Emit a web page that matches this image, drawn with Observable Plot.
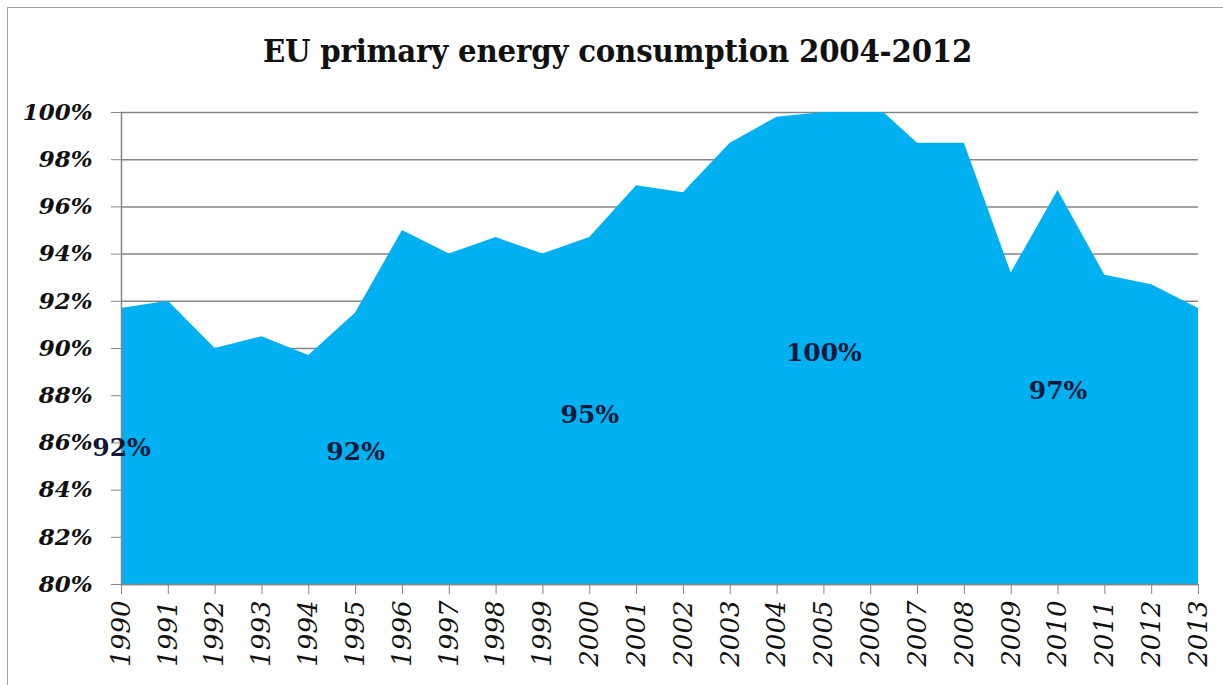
<!DOCTYPE html>
<html>
<head>
<meta charset="utf-8">
<script src="https://cdn.jsdelivr.net/npm/d3@7"></script>
<script src="https://cdn.jsdelivr.net/npm/@observablehq/plot@0.6"></script>
<style>
  html, body { margin: 0; padding: 0; background: #fff; width: 1223px; height: 685px; overflow: hidden; }
  #frame { position: absolute; left: 7px; top: 7px; width: 1240px; height: 700px; border: 1.5px solid #a0a0a0; box-sizing: border-box; }
  #title { position: absolute; left: 0; top: 31px; width: 1235px; text-align: center; font-family: "DejaVu Serif Condensed", "DejaVu Serif", serif; font-weight: bold; font-size: 32.5px; color: #111; letter-spacing: -0.2px; }
  #chart { position: absolute; left: 0; top: 90px; }
</style>
</head>
<body>
<div id="frame"></div>
<div id="title">EU primary energy consumption 2004-2012</div>
<div id="chart"></div>
<script>
const years = [1990,1991,1992,1993,1994,1995,1996,1997,1998,1999,2000,2001,2002,2003,2004,2005,2006,2007,2008,2009,2010,2011,2012,2013];
const consumption = [91.7,92.0,90.0,90.5,89.7,91.5,95.0,94.0,94.7,94.0,94.7,96.9,96.6,98.7,99.8,100.0,100.5,98.7,98.7,93.2,96.7,93.1,92.7,91.7];
const labelYears = [1990,1995,2000,2005,2010];
const labelTexts = ["92%","92%","95%","100%","97%"];
const labelLevels = [85.8,85.6,87.2,89.8,88.2];
const yTicks = [80,82,84,86,88,90,92,94,96,98,100];

const data = years.map((y, i) => ({year: y, value: consumption[i]}));
const labels = labelYears.map((y, i) => ({year: y, level: labelLevels[i], text: labelTexts[i]}));

const chart = Plot.plot({
  width: 1223,
  height: 595,
  marginLeft: 121,
  marginRight: 25,
  marginTop: 22,
  marginBottom: 101,
  x: {domain: [1990, 2013], ticks: years, tickFormat: d => String(d), tickRotate: -90, tickSize: 10, tickPadding: 6, label: null},
  y: {domain: [80, 100], ticks: yTicks, tickFormat: d => d + "%", tickSize: 10, tickPadding: 19, label: null},
  marks: [
    Plot.ruleY(yTicks, {stroke: "#858585", strokeWidth: 1.5}),
    Plot.areaY(data, {x: "year", y1: 80, y2: "value", fill: "#00b0f0", clip: true}),
    Plot.ruleX([1990], {stroke: "#858585", strokeWidth: 1.5}),
    Plot.ruleY([80], {stroke: "#858585", strokeWidth: 1.5}),
    Plot.axisY({ticks: yTicks, tickFormat: d => d + "%", tickSize: 10, tickPadding: 19, stroke: "#858585",
      fontFamily: "DejaVu Serif", fontStyle: "italic", fontWeight: "bold", fontSize: 23, fill: "#111", label: null}),
    Plot.axisX({ticks: years, tickFormat: d => String(d), tickRotate: -90, tickSize: 10, tickPadding: 6, stroke: "#858585",
      fontFamily: "DejaVu Serif", fontStyle: "italic", fontSize: 26, fill: "#111", label: null}),
    Plot.text(labels, {x: "year", y: "level", text: "text", fontFamily: "DejaVu Serif", fontWeight: "bold", fontSize: 25, fill: "#10193a", lineAnchor: "middle"})
  ]
});
document.getElementById("chart").appendChild(chart);
</script>
</body>
</html>
